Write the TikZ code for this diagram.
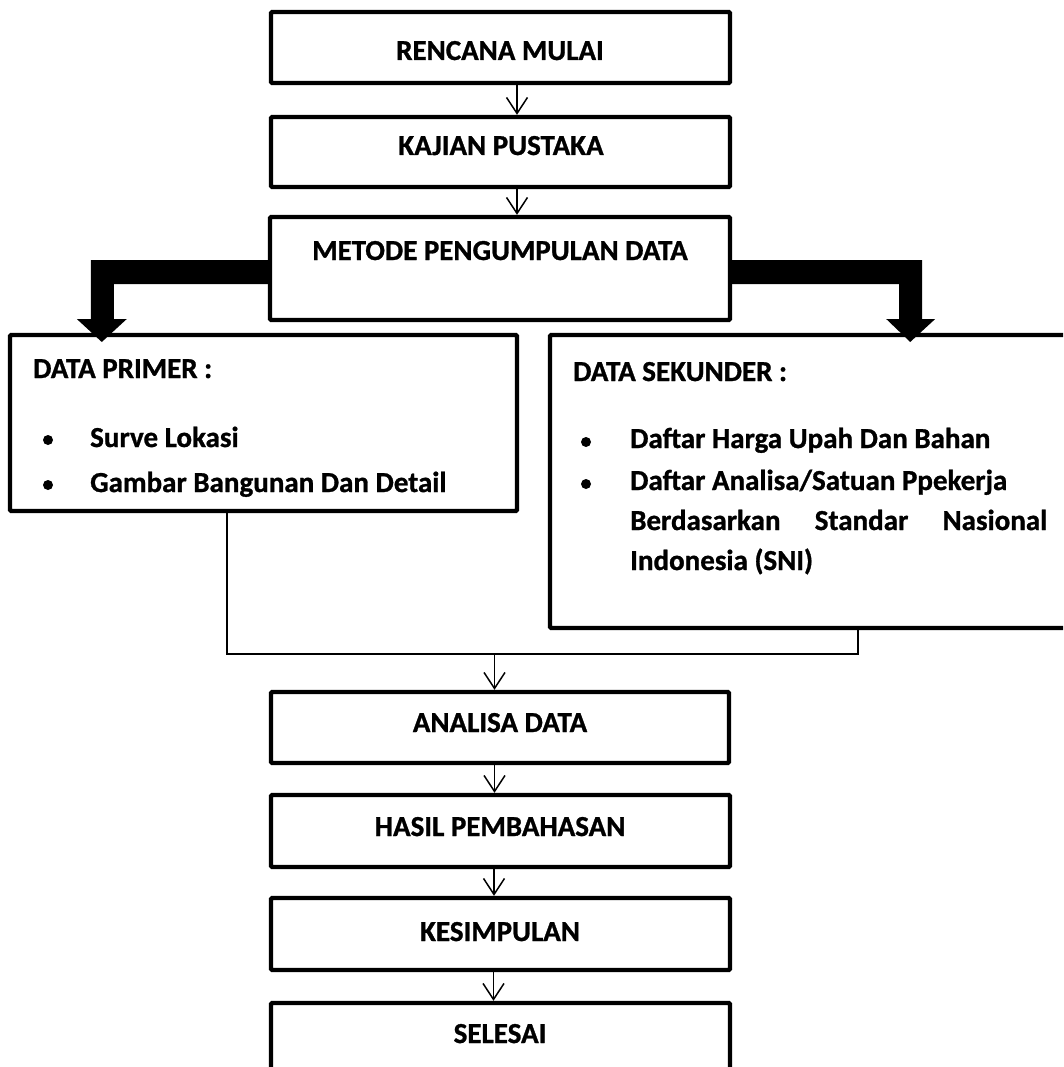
\documentclass[tikz,border=0pt]{standalone}
\usepackage{fontspec}
\setmainfont{Carlito}[BoldFeatures={FakeBold=1}]
\usetikzlibrary{arrows.meta,calc}
\begin{document}
\begin{tikzpicture}[x=1pt,y=-1pt,
  box/.style={draw, line width=4.4pt, rounded corners=1.2pt, inner sep=0pt},
  lbl/.style={font=\fontsize{29}{35}\selectfont\bfseries, inner sep=0pt, anchor=base},
  txt/.style={font=\fontsize{29}{35}\selectfont\bfseries, inner sep=0pt, anchor=base west},
  arr/.style={line width=1.5pt, -{Straight Barb[length=16pt,width=21pt]}},
  conn/.style={line width=1.4pt},
  bul/.style={circle, fill, inner sep=0pt, minimum size=10pt},
  fat/.style={fill=black}
]
\useasboundingbox (0,0) rectangle (1063,1067);
\clip (0,0) rectangle (1063,1067);

% boxes
\node[box, minimum width=459pt, minimum height=71pt] (b1) at (500.5,47.5) {};
\node[box, minimum width=459pt, minimum height=70pt] (b2) at (500.5,152) {};
\node[box, minimum width=460pt, minimum height=103pt] (b3) at (500,268.5) {};
\node[box, minimum width=507pt, minimum height=176pt] (prim) at (263.5,423) {};
\node[box, minimum width=525pt, minimum height=293pt] (sek) at (812.5,481.5) {};
\node[box, minimum width=458pt, minimum height=71pt] (b4) at (500,727.5) {};
\node[box, minimum width=459pt, minimum height=72pt] (b5) at (500.5,831) {};
\node[box, minimum width=459pt, minimum height=72pt] (b6) at (500.5,934) {};
\node[box, minimum width=459pt, minimum height=87pt] (b7) at (500.5,1046.5) {};

% labels
\node[lbl] (t1) at (500,60) {RENCANA MULAI};
\node[lbl] (t2) at (501,155) {KAJIAN PUSTAKA};
\node[lbl] (t3) at (500,260) {METODE PENGUMPULAN DATA};
\node[lbl] (t4) at (500,732) {ANALISA DATA};
\node[lbl] (t5) at (500,836) {HASIL PEMBAHASAN};
\node[lbl] (t6) at (500,941) {KESIMPULAN};
\node[lbl] (t7) at (500,1043) {SELESAI};

% data primer
\node[txt] (p0) at (33,378) {DATA PRIMER :};
\node[bul] (pb1) at (48,440) {};
\node[txt] (p1) at (90,447) {Surve Lokasi};
\node[bul] (pb2) at (48,485) {};
\node[txt] (p2) at (90,492) {Gambar Bangunan Dan Detail};

% data sekunder
\node[txt] (s0) at (573,381) {DATA SEKUNDER :};
\node[bul] (sb1) at (586,442) {};
\node[txt] (s1) at (630,448) {Daftar Harga Upah Dan Bahan};
\node[bul] (sb2) at (586,484) {};
\node[txt] (s2) at (630,490) {Daftar Analisa/Satuan Ppekerja};
\node[txt] (s3) at (630,530) {\hbox to 417pt{Berdasarkan\hfill Standar\hfill Nasional}};
\node[txt] (s4) at (630,570) {Indonesia (SNI)};

% thin arrows
\draw[arr] ([xshift=16.5pt]b1.south) -- ([xshift=16.5pt]b2.north);
\draw[arr] ([xshift=16.5pt]b2.south) -- ([xshift=16.5pt]b2.south |- b3.north);
\draw[arr] ([xshift=-5.5pt]b4.south) -- ([xshift=-5.5pt]b4.south |- b5.north);
\draw[arr] ([xshift=-6.5pt]b5.south) -- ([xshift=-6.5pt]b5.south |- b6.north);
\draw[arr] ([xshift=-7pt]b6.south) -- ([xshift=-7pt]b6.south |- b7.north);

% fat arrows
\fill[fat] ([yshift=8.5pt]b3.west) -- ++(-177,0) -- ++(0,59) -- ++(-14,0) -- ++(25,23) -- ++(25,-23) -- ++(-13,0) -- ++(0,-35) -- ++(154,0) -- cycle;
\fill[fat] ([yshift=8.5pt]b3.east) -- ++(190,0) -- ++(0,59) -- ++(13,0) -- ++(-25,23) -- ++(-24,-23) -- ++(13,0) -- ++(0,-35) -- ++(-167,0) -- cycle;

% joining connectors
\coordinate (jl) at (227,654);
\coordinate (jr) at (858,654);
\coordinate (jm) at (494.5,654);
\draw[conn] (prim.south -| jl) -- (jl) -- (jr) -- (sek.south -| jr);
\draw[arr] (jm) -- (b4.north -| jm);
\end{tikzpicture}
\end{document}
